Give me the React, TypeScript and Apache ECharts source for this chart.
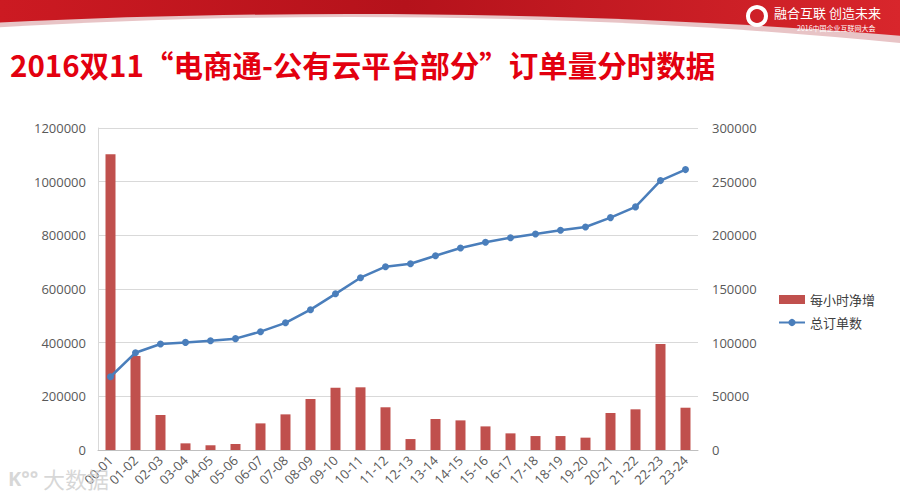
import React, { useEffect, useRef } from "react";
import * as echarts from "echarts";

const categories = [
  "00-01", "01-02", "02-03", "03-04", "04-05", "05-06", "06-07", "07-08",
  "08-09", "09-10", "10-11", "11-12", "12-13", "13-14", "14-15", "15-16",
  "16-17", "17-18", "18-19", "19-20", "20-21", "21-22", "22-23", "23-24",
];

// 每小时净增 (right axis)
const hourlyNet = [
  275500, 87600, 32600, 6200, 4400, 5600, 24800, 33200,
  47500, 58000, 58400, 39800, 10200, 28900, 27600, 22000,
  15500, 13000, 13000, 11500, 34500, 37900, 98800, 39400,
];

// 总订单数 (left axis)
const totalOrders = [
  273000, 362600, 395000, 401000, 407000, 415000, 441000, 474000,
  523000, 582000, 642000, 683000, 694000, 724000, 753000, 774000,
  791000, 805000, 819000, 831000, 866000, 906000, 1004000, 1045000,
];

const leftMax = 1200000;
const leftInterval = 200000;
const rightMax = 300000;
const rightInterval = 50000;

const titleText = "2016双11“电商通-公有云平台部分”订单量分时数据";

export default function App() {
  const ref = useRef<HTMLDivElement>(null);
  useEffect(() => {
    if (!ref.current) return;
    const chart = echarts.init(ref.current, undefined, { renderer: "svg" });
    const axisLabelStyle = {
      color: "#595959",
      fontSize: 13,
      fontFamily: "Open Sans, Noto Sans, sans-serif",
    };
    const plain = (v: number) => String(v);
    chart.setOption({
      animation: false,
      backgroundColor: "#ffffff",
      graphic: [
        {
          type: "rect",
          shape: { x: 0, y: 0, width: 900, height: 60 },
          style: {
            fill: new echarts.graphic.LinearGradient(0, 0, 1, 0, [
              { offset: 0, color: "#cc1a22" },
              { offset: 0.45, color: "#b5121b" },
              { offset: 1, color: "#d8262c" },
            ]),
          },
          z: -10,
        },
        {
          type: "ellipse",
          shape: { cx: 350, cy: 314, rx: 1470, ry: 300 },
          style: { fill: "#e8c4c6" },
          z: -9,
        },
        {
          type: "ellipse",
          shape: { cx: 350, cy: 317, rx: 1347, ry: 300 },
          style: { fill: "#ffffff" },
          z: -8,
        },
        {
          type: "circle",
          shape: { cx: 757, cy: 16, r: 9 },
          style: { fill: "none", stroke: "#ffffff", lineWidth: 4 },
          z: 3,
        },
        {
          type: "text",
          x: 774,
          y: 6,
          style: {
            text: "融合互联 创造未来",
            fill: "#ffffff",
            font: "13px 'Noto Sans CJK SC', sans-serif",
          },
          z: 3,
        },
        {
          type: "text",
          x: 797,
          y: 24,
          style: {
            text: "2016中国企业互联网大会",
            fill: "#ffffff",
            font: "7px 'Noto Sans CJK SC', sans-serif",
          },
          z: 3,
        },
        {
          type: "text",
          x: 10,
          y: 49,
          style: {
            text: titleText,
            fill: "#e3000f",
            font: "bold 29.5px 'Noto Sans CJK SC', sans-serif",
          },
          z: 3,
        },
        {
          type: "text",
          x: 8,
          y: 468,
          style: {
            text: "K°°",
            fill: "rgba(205,205,205,0.8)",
            font: "bold 20px 'Noto Sans', sans-serif",
          },
          z: 10,
        },
        {
          type: "text",
          x: 43,
          y: 467,
          style: {
            text: "大数据",
            fill: "rgba(205,205,205,0.8)",
            font: "22px 'Noto Sans CJK SC', sans-serif",
          },
          z: 10,
        },
      ],
      grid: { left: 98, right: 202, top: 128, bottom: 50 },
      legend: {
        orient: "vertical",
        left: 773,
        top: 288,
        itemGap: 10,
        itemWidth: 26,
        itemHeight: 9,
        textStyle: {
          color: "#404040",
          fontSize: 13,
          fontFamily: "Noto Sans CJK SC, sans-serif",
        },
        data: [
          { name: "每小时净增", icon: "rect" },
          { name: "总订单数" },
        ],
      },
      xAxis: {
        type: "category",
        data: categories,
        axisLine: { lineStyle: { color: "#bfbfbf" } },
        axisTick: { show: false },
        axisLabel: { ...axisLabelStyle, rotate: 45, margin: 8, interval: 0 },
      },
      yAxis: [
        {
          type: "value",
          min: 0,
          max: leftMax,
          interval: leftInterval,
          axisLine: { show: true, lineStyle: { color: "#d9d9d9" } },
          axisTick: { show: false },
          axisLabel: { ...axisLabelStyle, margin: 12, formatter: plain },
          splitLine: { lineStyle: { color: "#d9d9d9" } },
        },
        {
          type: "value",
          min: 0,
          max: rightMax,
          interval: rightInterval,
          axisLine: { show: false },
          axisTick: { show: false },
          axisLabel: { ...axisLabelStyle, margin: 14, formatter: plain },
          splitLine: { show: false },
        },
      ],
      series: [
        {
          name: "每小时净增",
          type: "bar",
          yAxisIndex: 1,
          data: hourlyNet,
          barWidth: 10,
          itemStyle: { color: "#c0504d" },
          z: 2,
        },
        {
          name: "总订单数",
          type: "line",
          yAxisIndex: 0,
          data: totalOrders,
          symbol: "circle",
          symbolSize: 7,
          lineStyle: { color: "#4a7ebb", width: 2.5 },
          itemStyle: { color: "#4a7ebb" },
          z: 3,
        },
      ],
    });
    return () => chart.dispose();
  }, []);
  return (
    <div
      ref={ref}
      style={{ position: "fixed", left: 0, top: 0, width: 900, height: 500 }}
    />
  );
}
